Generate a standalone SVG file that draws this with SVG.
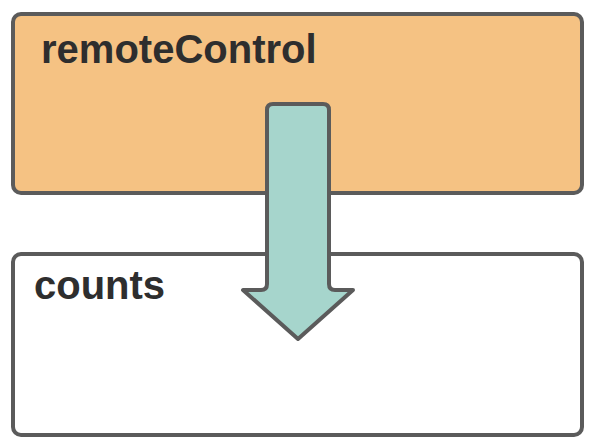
<svg xmlns="http://www.w3.org/2000/svg" width="596" height="448" viewBox="0 0 596 448">
<style>
.box{stroke:#5b5b5b;stroke-width:4}
.lbl{font-family:"Liberation Sans",Arial,sans-serif;font-weight:bold;font-size:40px;fill:#2e2e2e}
.arrow{fill:#a6d5cc;stroke:#5b5b5b;stroke-width:4;stroke-linejoin:round}
</style>
<rect width="596" height="448" fill="#ffffff"/>
<g id="remoteControl">
<rect class="box" x="13" y="14" width="569" height="179" rx="8" fill="#f5c283"/>
<text class="lbl" x="41" y="63">remoteControl</text>
</g>
<g id="counts">
<rect class="box" x="13" y="254" width="569" height="181" rx="8" fill="#ffffff"/>
<text class="lbl" x="34" y="299">counts</text>
</g>
<g id="connectors">
<path class="arrow" d="M267 110 Q267 104 273 104 L323 104 Q329 104 329 110 L329 284 Q329 290 335 290 L353 290 L298 339 L243 290 L261 290 Q267 290 267 284 Z"/>
</g>
</svg>
